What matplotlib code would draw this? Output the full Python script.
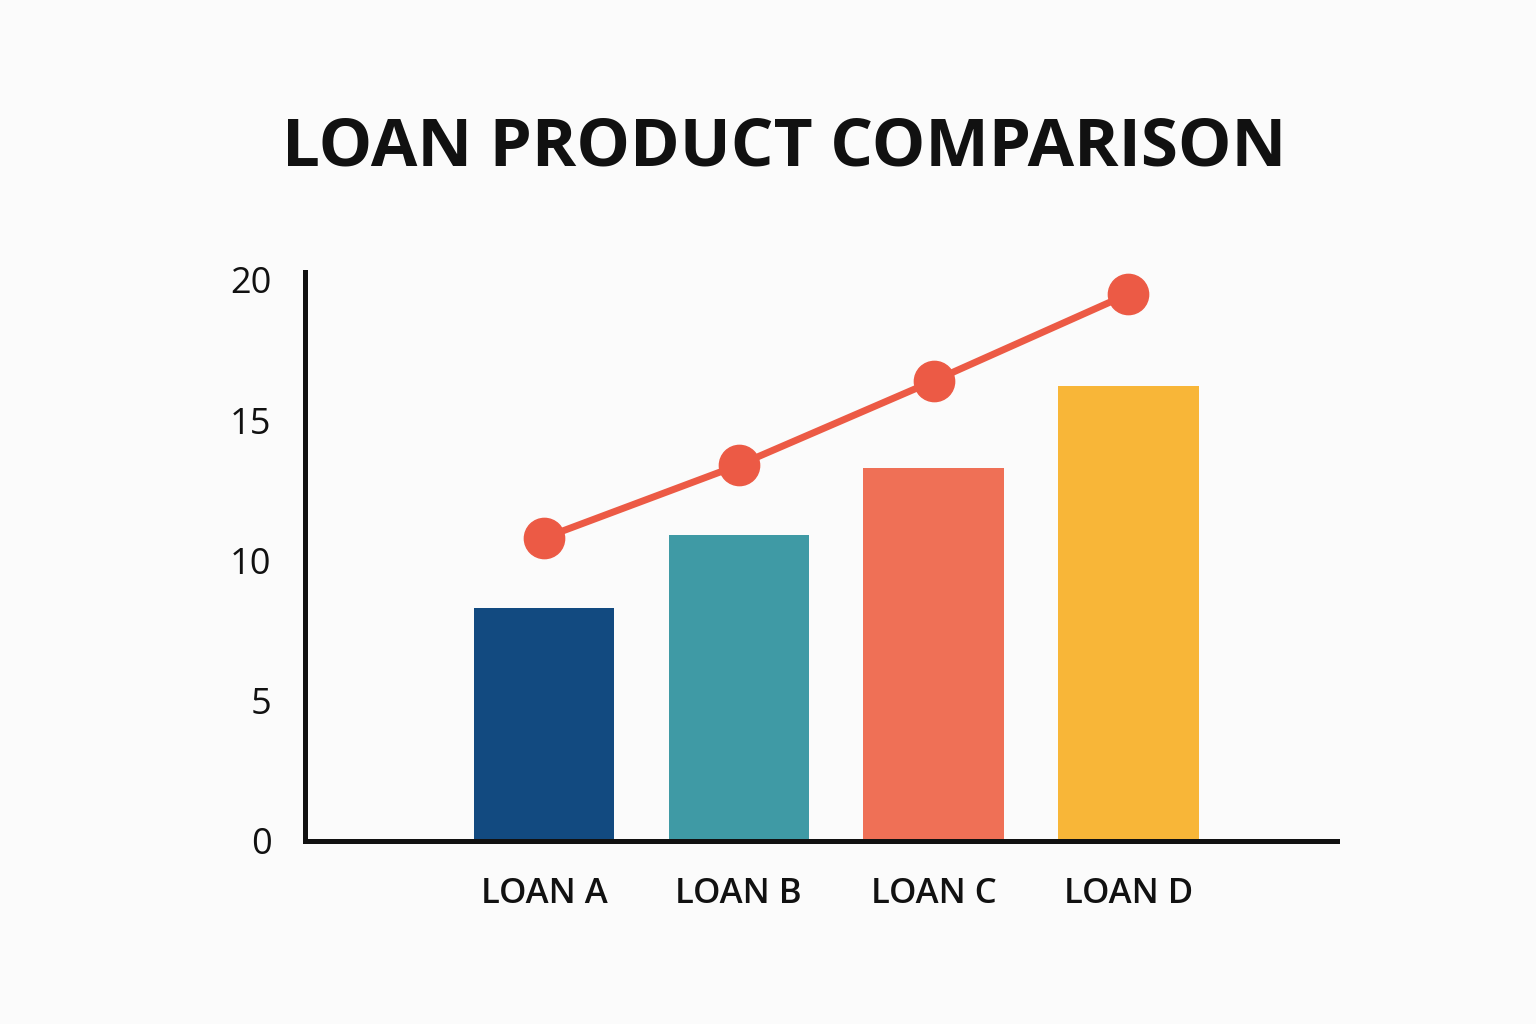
import matplotlib
matplotlib.use("Agg")
import matplotlib.pyplot as plt

categories = ["LOAN A", "LOAN B", "LOAN C", "LOAN D"]
bar_values = [8.3, 10.9, 13.3, 16.2]
line_values = [10.8, 13.4, 16.4, 19.5]
bar_colors = ["#124a80", "#3f9aa5", "#ef7056", "#f8b638"]
line_color = "#ec5a45"
yticks = [0, 5, 10, 15, 20]

bg = "#fbfbfb"
fig = plt.figure(figsize=(15.36, 10.24), dpi=100, facecolor=bg)
ax = fig.add_axes([305/1536, 1-841/1024, (1337-305)/1536, (841-272)/1024])
ax.set_facecolor(bg)

x = list(range(len(categories)))
ax.bar(x, bar_values, width=0.72, color=bar_colors, zorder=2)
ax.plot(x, line_values, color=line_color, lw=5, marker="o", markersize=29,
        zorder=3, solid_capstyle="round")

ax.set_xlim(-1.226, 4.07)
ax.set_ylim(0, 20.28)
ax.set_yticks(yticks)
ax.set_yticklabels([str(v) for v in yticks], fontsize=26, color="#111111",
                   family=["Open Sans", "DejaVu Sans"])
ax.set_xticks(x)
ax.set_xticklabels(categories, fontsize=25, color="#111111", fontweight="semibold",
                   family=["Open Sans", "DejaVu Sans"])
ax.tick_params(axis="y", length=0, pad=24)
ax.tick_params(axis="x", length=0, pad=26)

for s in ["top", "right"]:
    ax.spines[s].set_visible(False)
for s in ["left", "bottom"]:
    ax.spines[s].set_linewidth(3.6)
    ax.spines[s].set_color("#111111")

fig.text(784/1536, 1-165/1024, "LOAN PRODUCT COMPARISON", ha="center", va="baseline",
         fontsize=48.5, fontweight="bold", color="#111111",
         family=["Open Sans", "DejaVu Sans"])

fig.savefig("out.png", dpi=100, facecolor=bg)
